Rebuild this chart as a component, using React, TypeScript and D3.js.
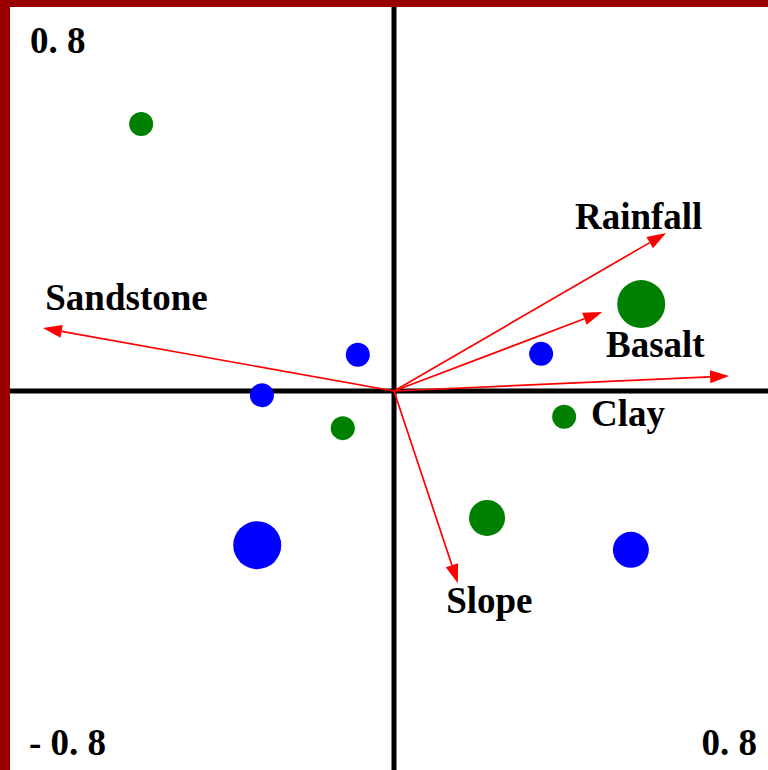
import React from "react";
import * as d3 from "d3";

const W = 768;
const H = 770;

// Site scores
const siteX = [-0.538, -0.077, 0.313, -0.281, -0.109, 0.526, 0.362, 0.198, -0.291, 0.504];
const siteY = [0.568, 0.077, 0.079, -0.009, -0.079, 0.185, -0.055, -0.270, -0.328, -0.338];
const siteGroup = ["g", "b", "b", "b", "g", "g", "g", "g", "b", "b"];
const siteSize = [1, 1, 1, 1, 1, 3, 1, 2, 3, 2];

// Environmental vectors
const envNames = ["Rainfall", "Basalt", "Clay", "Slope", "Sandstone"];
const envX = [0.579, 0.443, 0.713, 0.136, -0.747];
const envY = [0.336, 0.168, 0.032, -0.409, 0.134];
const envLabelX = [0.385, 0.451, 0.419, 0.111, -0.742];
const envLabelY = [0.345, 0.072, -0.074, -0.472, 0.172];

const cornerLabels = ["0. 8", "- 0. 8", "0. 8"];

export default function App() {
  const x = d3.scaleLinear().domain([-0.8, 0.8]).range([18, 770]);
  const y = d3.scaleLinear().domain([-0.8, 0.8]).range([767, 15]);
  const r = d3.scaleOrdinal<number, number>().domain([1, 2, 3]).range([12, 18, 24]);
  const color = (g: string) => (g === "g" ? "#008000" : "#0000ff");
  const ox = x(0);
  const oy = y(0);
  const font = "'Liberation Serif', 'Times New Roman', serif";
  const fs = 37;

  const heads = envNames.map((_, i) => {
    const tx = x(envX[i]);
    const ty = y(envY[i]);
    const dx = tx - ox;
    const dy = ty - oy;
    const len = Math.sqrt(dx * dx + dy * dy);
    const ux = dx / len;
    const uy = dy / len;
    const L = 19;
    const hw = 6.5;
    const bx = tx - ux * L;
    const by = ty - uy * L;
    return {
      tx,
      ty,
      bx,
      by,
      pts: `${tx},${ty} ${bx - uy * hw},${by + ux * hw} ${bx + uy * hw},${by - ux * hw}`,
    };
  });

  return (
    <svg
      width={W}
      height={H}
      style={{ position: "absolute", left: 0, top: 0, background: "#fff" }}
    >
      <rect x={0} y={0} width={W} height={H} fill="#fff" />
      <rect x={0} y={0} width={10} height={H} fill="#9b0000" />
      <rect x={0} y={0} width={W} height={7} fill="#9b0000" />
      <line x1={10} x2={W} y1={oy} y2={oy} stroke="#000" strokeWidth={5} />
      <line x1={ox} x2={ox} y1={7} y2={H} stroke="#000" strokeWidth={5} />

      {siteX.map((v, i) => (
        <circle key={i} cx={x(v)} cy={y(siteY[i])} r={r(siteSize[i])} fill={color(siteGroup[i])} />
      ))}

      {heads.map((h, i) => (
        <g key={i}>
          <line x1={ox} y1={oy} x2={h.bx} y2={h.by} stroke="#ff0000" strokeWidth={1.7} />
          <polygon points={h.pts} fill="#ff0000" />
        </g>
      ))}

      {envNames.map((n, i) => (
        <text
          key={n}
          x={x(envLabelX[i])}
          y={y(envLabelY[i])}
          fontFamily={font}
          fontWeight="bold"
          fontSize={fs}
          fill="#000"
        >
          {n}
        </text>
      ))}

      <text x={30} y={53} fontFamily={font} fontWeight="bold" fontSize={fs}>
        {cornerLabels[0]}
      </text>
      <text x={29} y={755} fontFamily={font} fontWeight="bold" fontSize={fs}>
        {cornerLabels[1]}
      </text>
      <text x={757} y={755} textAnchor="end" fontFamily={font} fontWeight="bold" fontSize={fs}>
        {cornerLabels[2]}
      </text>
    </svg>
  );
}
